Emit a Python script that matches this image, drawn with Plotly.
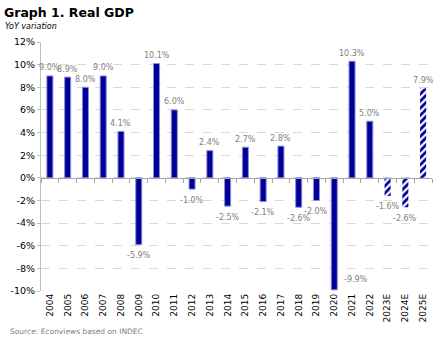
import plotly.graph_objects as go

years = ["2004", "2005", "2006", "2007", "2008", "2009", "2010", "2011", "2012", "2013", "2014",
         "2015", "2016", "2017", "2018", "2019", "2020", "2021", "2022", "2023E", "2024E", "2025E"]
gdp = [9.0, 8.9, 8.0, 9.0, 4.1, -5.9, 10.1, 6.0, -1.0, 2.4, -2.5,
       2.7, -2.1, 2.8, -2.6, -2.0, -9.9, 10.3, 5.0, -1.6, -2.6, 7.9]
is_estimate = [y.endswith("E") for y in years]

y_ticks = [-10, -8, -6, -4, -2, 0, 2, 4, 6, 8, 10, 12]
y_min, y_max = -10, 12

NAVY = "#000099"
FONT = "DejaVu Sans"

act_x = [x for x, e in zip(years, is_estimate) if not e]
act_y = [v for v, e in zip(gdp, is_estimate) if not e]
est_x = [x for x, e in zip(years, is_estimate) if e]
est_y = [v for v, e in zip(gdp, is_estimate) if e]

fig = go.Figure()
fig.add_trace(go.Bar(
    x=act_x, y=act_y, marker=dict(color=NAVY, line=dict(color="#8c8cd9", width=1)),
    width=0.34, showlegend=False, hoverinfo="x+y"))
fig.add_trace(go.Bar(
    x=est_x, y=est_y,
    marker=dict(color="white", line=dict(color="white", width=0),
                pattern=dict(shape="/", fgcolor=NAVY, bgcolor="white", fgopacity=1,
                             size=5, solidity=0.55)),
    width=0.34, showlegend=False, hoverinfo="x+y"))

# invisible trace for the zero-line axis with category ticks
fig.add_trace(go.Scatter(x=years, y=[0] * len(years), xaxis="x2", mode="markers",
                         marker=dict(opacity=0), showlegend=False, hoverinfo="skip"))

label_font = dict(family=FONT, size=8, color="#808080")
for i, v in enumerate(gdp):
    txt = f"{v:.1f}%"
    if v <= -9:
        fig.add_annotation(x=i, y=v, text=txt, showarrow=False, xshift=22, yshift=10, font=label_font)
    elif v >= 0:
        fig.add_annotation(x=i, y=v, text=txt, showarrow=False, yshift=8, font=label_font)
    else:
        fig.add_annotation(x=i, y=v, text=txt, showarrow=False, yshift=-11, font=label_font)

zero_pos = (0 - y_min) / (y_max - y_min)

fig.update_layout(
    width=443, height=340,
    margin=dict(l=37, r=11, t=42, b=49),
    paper_bgcolor="white", plot_bgcolor="white",
    barmode="overlay",
    font=dict(family=FONT, size=9, color="black"),
    xaxis=dict(type="category", categoryorder="array", categoryarray=years,
               range=[-0.5, len(years) - 0.5],
               tickangle=-90, showline=False, showgrid=False, ticks="",
               tickfont=dict(family=FONT, size=9, color="black")),
    xaxis2=dict(type="category", categoryorder="array", categoryarray=years,
                range=[-0.5, len(years) - 0.5],
                overlaying="x", anchor="free", position=zero_pos, side="bottom",
                showticklabels=False, showline=True, linecolor="#a6a6a6", linewidth=1,
                ticks="outside", ticklen=4, tickcolor="#a6a6a6", tickson="boundaries",
                showgrid=False, zeroline=False),
    yaxis=dict(range=[y_min, y_max], tickvals=y_ticks,
               ticktext=[f"{t}%" for t in y_ticks],
               showgrid=True, gridcolor="#d9d9d9", griddash="dash", gridwidth=1,
               zeroline=False, showline=True, linecolor="#bfbfbf", linewidth=1,
               ticks="outside", ticklen=3, tickcolor="#bfbfbf",
               tickfont=dict(family=FONT, size=9.5, color="black")),
)

fig.add_annotation(xref="paper", yref="paper", x=-39 / 395, y=1 + 29 / 249, xanchor="left", yanchor="middle",
                   text="<b>Graph 1. Real GDP</b>", showarrow=False,
                   font=dict(family=FONT, size=12.5, color="black"))
fig.add_annotation(xref="paper", yref="paper", x=-38 / 395, y=1 + 16 / 249, xanchor="left", yanchor="middle",
                   text="<i>YoY variation</i>", showarrow=False,
                   font=dict(family=FONT, size=8, color="black"))
fig.add_annotation(xref="paper", yref="paper", x=-33 / 395, y=-40 / 249, xanchor="left", yanchor="middle",
                   text="Source: Econviews based on INDEC", showarrow=False,
                   font=dict(family=FONT, size=7.5, color="#808080"))

fig.write_html("out.html")
